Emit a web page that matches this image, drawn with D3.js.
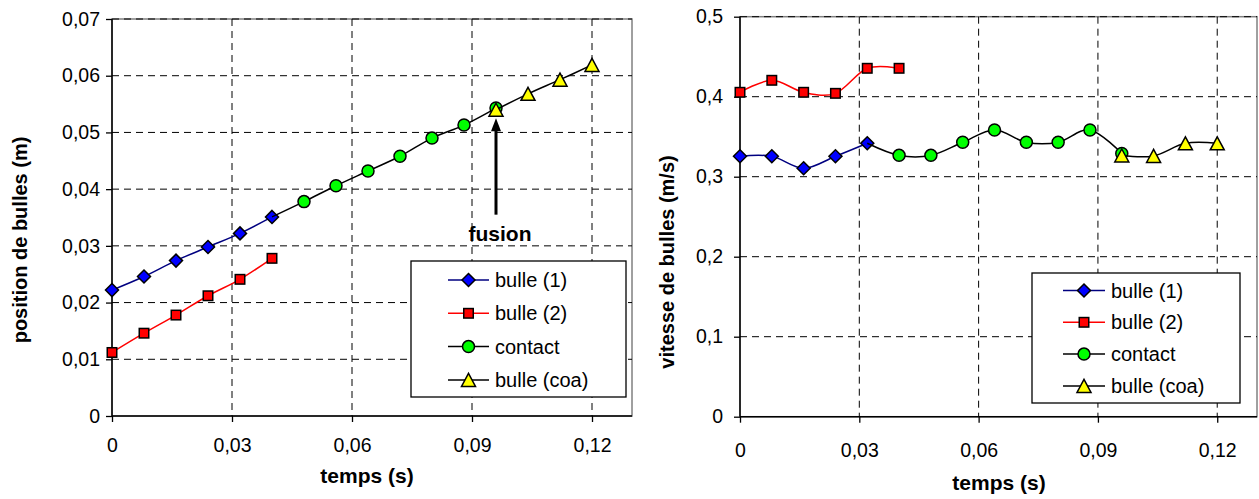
<!DOCTYPE html>
<html><head><meta charset="utf-8">
<script src="https://cdn.jsdelivr.net/npm/d3@7"></script>
<style>
html,body{margin:0;padding:0;background:#fff;}
svg text{font-family:"Liberation Sans",Arial,sans-serif;fill:#000;}
</style></head>
<body>
<svg id="c" width="1259" height="499"></svg>
<script>
// ---------- DATA ----------
const seriesNames = ["bulle (1)", "bulle (2)", "contact", "bulle (coa)"];
const xTicks = [0, 0.03, 0.06, 0.09, 0.12];
const xTickLabels = ["0", "0,03", "0,06", "0,09", "0,12"];

// position chart
const posYTicks = [0, 0.01, 0.02, 0.03, 0.04, 0.05, 0.06, 0.07];
const posYTickLabels = ["0", "0,01", "0,02", "0,03", "0,04", "0,05", "0,06", "0,07"];
const posT1 = [0, 0.008, 0.016, 0.024, 0.032, 0.04];
const pos1 = [0.0222, 0.0246, 0.0274, 0.0298, 0.0322, 0.0351];
const posT2 = [0, 0.008, 0.016, 0.024, 0.032, 0.04];
const pos2 = [0.0112, 0.0146, 0.0178, 0.0212, 0.0241, 0.0278];
const posTC = [0.048, 0.056, 0.064, 0.072, 0.08, 0.088, 0.096];
const posC = [0.0378, 0.0406, 0.0432, 0.0458, 0.0490, 0.0513, 0.0543];
const posTA = [0.096, 0.104, 0.112, 0.12];
const posA = [0.0540, 0.0568, 0.0593, 0.0619];
const fusionT = 0.096, fusionTipY = 0.0525, fusionTailY = 0.0355;

// speed chart
const vitYTicks = [0, 0.1, 0.2, 0.3, 0.4, 0.5];
const vitYTickLabels = ["0", "0,1", "0,2", "0,3", "0,4", "0,5"];
const vitT1 = [0, 0.008, 0.016, 0.024, 0.032];
const vit1 = [0.3255, 0.3255, 0.3105, 0.3255, 0.3418];
const vitT2 = [0, 0.008, 0.016, 0.024, 0.032, 0.04];
const vit2 = [0.4055, 0.4205, 0.4055, 0.4042, 0.4355, 0.4355];
const vitTC = [0.04, 0.048, 0.056, 0.064, 0.072, 0.08, 0.088, 0.096];
const vitC = [0.3267, 0.3267, 0.3430, 0.3584, 0.3430, 0.3430, 0.3584, 0.3290];
const vitTA = [0.096, 0.104, 0.112, 0.12];
const vitA = [0.3265, 0.3260, 0.3417, 0.3417];

// ---------- STYLE ----------
const lineColors = ["#000080", "#ff0000", "#000000", "#000000"];
const fillColors = ["#0000ff", "#ff0000", "#00ff00", "#ffff00"];
const shapes = ["diamond", "square", "circle", "triangle"];

const svg = d3.select("#c");
const zip = (t, v) => t.map((d, i) => ({t: d, v: v[i]}));

function marker(g, shape, x, y, fill) {
  let el;
  if (shape === "diamond") {
    const r = 6.5;
    el = g.append("path").attr("d", `M${x},${y-r}L${x+r},${y}L${x},${y+r}L${x-r},${y}Z`);
  } else if (shape === "square") {
    const s = 9.5;
    el = g.append("rect").attr("x", x - s/2).attr("y", y - s/2).attr("width", s).attr("height", s);
  } else if (shape === "circle") {
    el = g.append("circle").attr("cx", x).attr("cy", y).attr("r", 6);
  } else {
    const w = 7, h = 13;
    el = g.append("path").attr("d", `M${x},${y-h/2}L${x+w},${y+h/2}L${x-w},${y+h/2}Z`);
  }
  el.attr("fill", fill).attr("stroke", "#000").attr("stroke-width", 1.5);
}

function drawChart(cfg) {
  const g = svg.append("g");
  const x = d3.scaleLinear().domain([0, 0.13]).range([cfg.x0, cfg.x1]);
  const y = d3.scaleLinear().domain([0, cfg.yMax]).range([cfg.y0, cfg.y1]);

  // plot border (gray)
  g.append("rect").attr("x", cfg.x0).attr("y", cfg.y1)
    .attr("width", cfg.x1 - cfg.x0).attr("height", cfg.y0 - cfg.y1)
    .attr("fill", "#fff").attr("stroke", "#808080").attr("stroke-width", 1.5);

  // gridlines
  g.append("g").selectAll("line").data(cfg.yTicks.filter(d => d > 0)).join("line")
    .attr("x1", cfg.x0).attr("x2", cfg.x1)
    .attr("y1", d => y(d)).attr("y2", d => y(d))
    .attr("stroke", "#000").attr("stroke-width", 1).attr("stroke-dasharray", "7,5");
  g.append("g").selectAll("line").data(xTicks.filter(d => d > 0)).join("line")
    .attr("x1", d => x(d)).attr("x2", d => x(d))
    .attr("y1", cfg.y1).attr("y2", cfg.y0)
    .attr("stroke", "#000").attr("stroke-width", 1).attr("stroke-dasharray", "7,5");

  // axes
  const xAxis = d3.axisBottom(x).tickValues(xTicks)
    .tickFormat((d, i) => xTickLabels[i]).tickSize(6).tickPadding(cfg.xPad);
  const xa = g.append("g").attr("transform", `translate(0,${cfg.y0})`).call(xAxis);
  const yAxis = d3.axisLeft(y).tickValues(cfg.yTicks)
    .tickFormat((d, i) => cfg.yTickLabels[i]).tickSize(6).tickPadding(cfg.yPad);
  const ya = g.append("g").attr("transform", `translate(${cfg.x0},0)`).call(yAxis);
  [xa, ya].forEach(a => {
    a.select(".domain").remove();
    a.selectAll(".tick line").attr("stroke", "#000").attr("stroke-width", 1.3);
    a.selectAll(".tick text").attr("font-size", 19.5).attr("font-family", null).attr("fill", "#000");
  });
  g.append("line").attr("x1", cfg.x0).attr("x2", cfg.x1).attr("y1", cfg.y0).attr("y2", cfg.y0)
    .attr("stroke", "#000").attr("stroke-width", 1.5);
  g.append("line").attr("x1", cfg.x0).attr("x2", cfg.x0).attr("y1", cfg.y1).attr("y2", cfg.y0)
    .attr("stroke", "#000").attr("stroke-width", 1.5);

  // series
  const line = d3.line().x(d => x(d.t)).y(d => y(d.v)).curve(d3.curveCardinal.tension(0));
  cfg.series.forEach((s, i) => {
    const pts = s.lead ? [s.lead].concat(s.data) : s.data;
    g.append("path").datum(pts).attr("d", line).attr("fill", "none")
      .attr("stroke", lineColors[i]).attr("stroke-width", 1.5);
    const mg = g.append("g");
    s.data.forEach(d => marker(mg, shapes[i], x(d.t), y(d.v), fillColors[i]));
  });

  // axis titles
  g.append("text").attr("x", cfg.xTitleX).attr("y", cfg.xTitleY)
    .attr("text-anchor", "middle").attr("font-size", 21).attr("font-weight", "bold").text("temps (s)");
  g.append("text").attr("transform", `translate(${cfg.yTitleX},${cfg.yTitleY}) rotate(-90)`)
    .attr("text-anchor", "middle").attr("dominant-baseline", "central")
    .attr("font-size", 20).attr("font-weight", "bold").text(cfg.yTitle);

  // legend
  const L = cfg.legend;
  g.append("rect").attr("x", L.x).attr("y", L.y).attr("width", L.w).attr("height", L.h)
    .attr("fill", "#fff").attr("stroke", "#000").attr("stroke-width", 1.3);
  seriesNames.forEach((n, i) => {
    const cy = L.y + L.top + i * L.step;
    g.append("line").attr("x1", L.lx0).attr("x2", L.lx1).attr("y1", cy).attr("y2", cy)
      .attr("stroke", lineColors[i]).attr("stroke-width", 1.5);
    marker(g, shapes[i], (L.lx0 + L.lx1) / 2, cy, fillColors[i]);
    g.append("text").attr("x", L.tx).attr("y", cy).attr("dominant-baseline", "central")
      .attr("font-size", 20).text(n);
  });
  return {g, x, y};
}

// ---------- LEFT CHART ----------
const pos1Data = zip(posT1, pos1);
const left = drawChart({
  x0: 112, x1: 632, y0: 416, y1: 19, yMax: 0.07,
  yTicks: posYTicks, yTickLabels: posYTickLabels, xPad: 16, yPad: 6,
  series: [
    {data: pos1Data},
    {data: zip(posT2, pos2)},
    {data: zip(posTC, posC), lead: pos1Data[pos1Data.length - 1]},
    {data: zip(posTA, posA)}
  ],
  xTitleX: 367, xTitleY: 483, yTitleX: 20, yTitleY: 240,
  yTitle: "position de bulles (m)",
  legend: {x: 411, y: 261, w: 215, h: 136, top: 19, step: 33.3, lx0: 448, lx1: 489, tx: 495}
});
// fusion annotation
{
  const fx = left.x(fusionT);
  const tip = left.y(fusionTipY), tail = left.y(fusionTailY);
  left.g.append("line").attr("x1", fx).attr("x2", fx).attr("y1", tail).attr("y2", tip + 10)
    .attr("stroke", "#000").attr("stroke-width", 3);
  left.g.append("path").attr("d", `M${fx},${tip}L${fx+5},${tip+13}L${fx-5},${tip+13}Z`).attr("fill", "#000");
  left.g.append("text").attr("x", fx + 4).attr("y", 241).attr("text-anchor", "middle")
    .attr("font-size", 21).attr("font-weight", "bold").text("fusion");
}

// ---------- RIGHT CHART ----------
const vit1Data = zip(vitT1, vit1);
drawChart({
  x0: 740, x1: 1257, y0: 416.7, y1: 16.7, yMax: 0.5,
  yTicks: vitYTicks, yTickLabels: vitYTickLabels, xPad: 20, yPad: 11,
  series: [
    {data: vit1Data},
    {data: zip(vitT2, vit2)},
    {data: zip(vitTC, vitC), lead: vit1Data[vit1Data.length - 1]},
    {data: zip(vitTA, vitA)}
  ],
  xTitleX: 999, xTitleY: 490, yTitleX: 667, yTitleY: 262,
  yTitle: "vitesse de bulles (m/s)",
  legend: {x: 1032, y: 273, w: 208, h: 130, top: 17.5, step: 31.8, lx0: 1063, lx1: 1105, tx: 1111}
});
</script>
</body></html>
